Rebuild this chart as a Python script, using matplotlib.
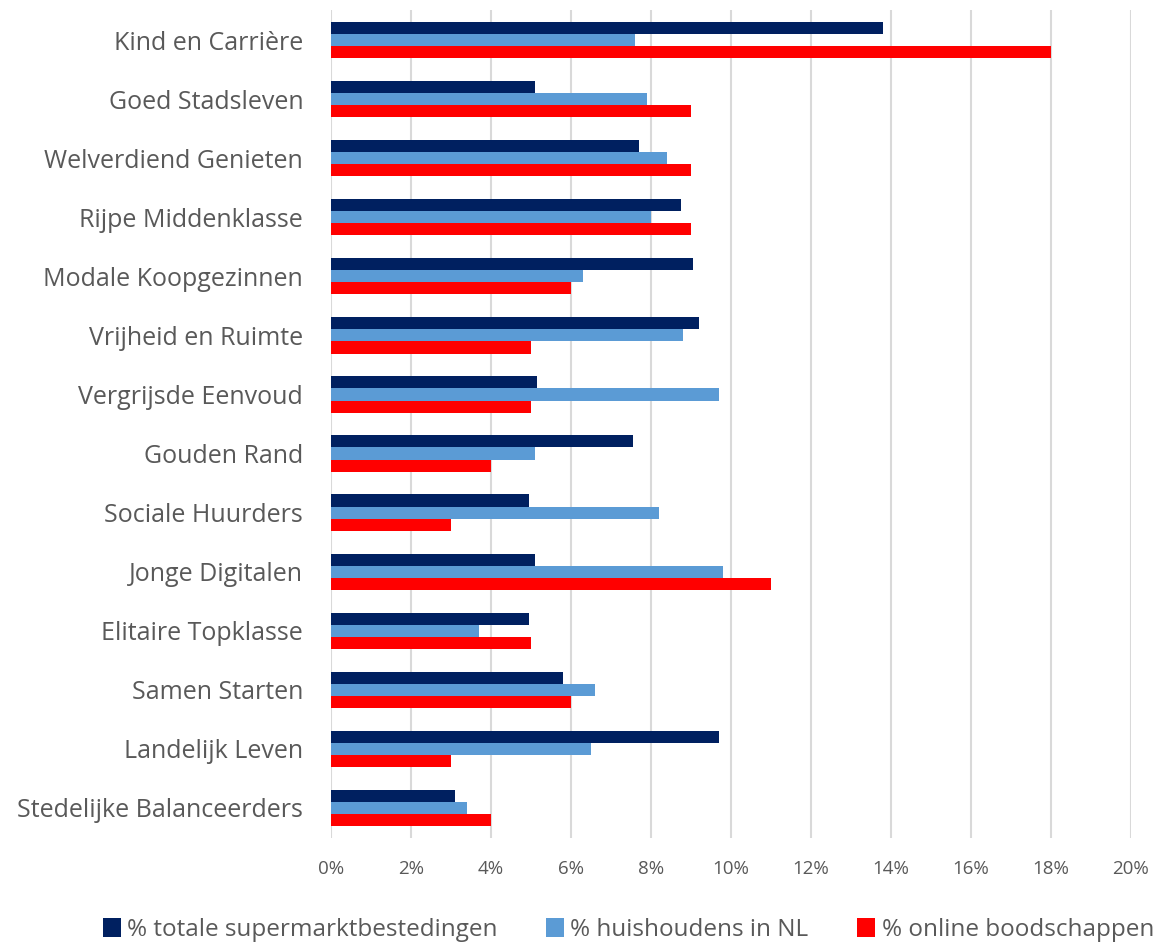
import matplotlib.pyplot as plt
import numpy as np
from matplotlib.ticker import FuncFormatter

categories = ["Kind en Carrière", "Goed Stadsleven", "Welverdiend Genieten",
              "Rijpe Middenklasse", "Modale Koopgezinnen", "Vrijheid en Ruimte",
              "Vergrijsde Eenvoud", "Gouden Rand", "Sociale Huurders",
              "Jonge Digitalen", "Elitaire Topklasse", "Samen Starten",
              "Landelijk Leven", "Stedelijke Balanceerders"]
supermarkt = [13.8, 5.1, 7.7, 8.75, 9.05, 9.2, 5.15, 7.55, 4.95, 5.1, 4.95, 5.8, 9.7, 3.1]
huishoudens = [7.6, 7.9, 8.4, 8.0, 6.3, 8.8, 9.7, 5.1, 8.2, 9.8, 3.7, 6.6, 6.5, 3.4]
online = [18, 9, 9, 9, 6, 5, 5, 4, 3, 11, 5, 6, 3, 4]

series = [
    ("% totale supermarktbestedingen", supermarkt, "#002060"),
    ("% huishoudens in NL", huishoudens, "#5B9BD5"),
    ("% online boodschappen", online, "#FF0000"),
]

plt.rcParams['font.family'] = ['Open Sans', 'DejaVu Sans']
text_color = "#595959"

fig = plt.figure(figsize=(11.55, 9.44), dpi=100)
ax = fig.add_axes([0.2866, 0.1128, 0.6924, 0.8761])

y = np.arange(len(categories))
h = 0.205
for i, (name, vals, col) in enumerate(series):
    ax.barh(y + (i - 1) * h, vals, height=h, color=col, label=name, zorder=3)

ax.set_ylim(len(categories) - 0.5, -0.5)
ax.set_xlim(0, 20)
ax.set_xticks(np.arange(0, 21, 2))
ax.xaxis.set_major_formatter(FuncFormatter(lambda v, p: "%d%%" % v))
ax.set_yticks(y)
ax.set_yticklabels(categories)

ax.grid(axis="x", color="#D9D9D9", linewidth=1.5, zorder=0)
for s in ax.spines.values():
    s.set_visible(False)
ax.tick_params(axis="both", length=0, colors=text_color)
ax.tick_params(axis="y", labelsize=18, pad=20)
ax.tick_params(axis="x", labelsize=13.5, pad=16)

leg = fig.legend(loc="center", bbox_to_anchor=(0.544, 0.0148), ncol=3,
                 frameon=False, fontsize=17.5, handlelength=0.75, handleheight=0.8,
                 handletextpad=0.25, columnspacing=2.0, borderpad=0)
for t in leg.get_texts():
    t.set_color(text_color)

fig.savefig("out.png", dpi=100)
